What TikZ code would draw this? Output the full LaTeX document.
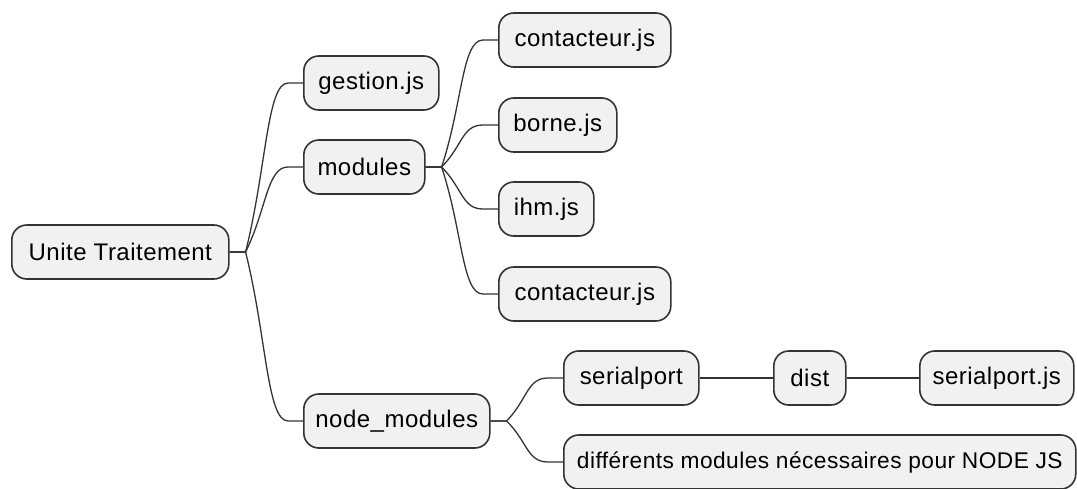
\documentclass[tikz,border=0pt]{standalone}
\usepackage{fontspec}
\setmainfont{Liberation Sans}[LetterSpace=2.0]
\usetikzlibrary{calc}
\definecolor{boxfill}{HTML}{F1F1F1}
\definecolor{boxline}{HTML}{333333}
\tikzset{
  topic/.style={draw=boxline, line width=1.6pt, fill=boxfill, rounded corners=15pt,
    minimum height=54pt, inner sep=0pt, anchor=west,
    font=\fontsize{24}{28}\selectfont, text=black},
  link/.style={draw=boxline, line width=1.3pt},
}
% branch from a parent's right side to a child's left side
\newcommand\branch[2]{%
  \draw[link] (#1.east) -- ++(16pt,0) coordinate (s)
    .. controls ($(s)!0.5!(#2.west -| s) + (21pt,0)$) and ($(#2.west) + (-36pt,0)$)
    .. ($(#2.west) + (-15pt,0)$) -- (#2.west);}
\begin{document}
\begin{tikzpicture}[x=1pt, y=-1pt]
\useasboundingbox (0,0) rectangle (1077,488);

\node[topic, minimum width=217pt] (root) at (11,252) {Unite Traitement};

\node[topic, minimum width=135pt] (gestion) at (303,83) {gestion.js};
\node[topic, minimum width=121pt] (modules) at (303,167) {modules};
\node[topic, minimum width=186pt] (nodemod) at (303,421) {node\_modules};

\node[topic, minimum width=172pt] (cont1) at (498,40) {contacteur.js};
\node[topic, minimum width=118pt] (borne) at (498,125) {borne.js};
\node[topic, minimum width=95pt]  (ihm) at (498,209) {ihm.js};
\node[topic, minimum width=172pt] (cont2) at (498,294) {contacteur.js};

\node[topic, minimum width=135pt] (serial) at (563,378) {serialport};
\node[topic, minimum width=72pt]  (dist) at (773,378) {dist};
\node[topic, minimum width=154pt] (serialjs) at (919,378) {serialport.js};
\node[topic, minimum width=512pt, font=\fontsize{22.7}{28}\selectfont] (diff) at (563,462)
  {différents modules nécessaires pour NODE JS};

\foreach \c in {gestion, modules, nodemod} {\branch{root}{\c}}
\foreach \c in {cont1, borne, ihm, cont2} {\branch{modules}{\c}}
\foreach \c in {serial, diff} {\branch{nodemod}{\c}}

\draw[link] (serial) -- (dist);
\draw[link] (dist) -- (serialjs);
\end{tikzpicture}
\end{document}
